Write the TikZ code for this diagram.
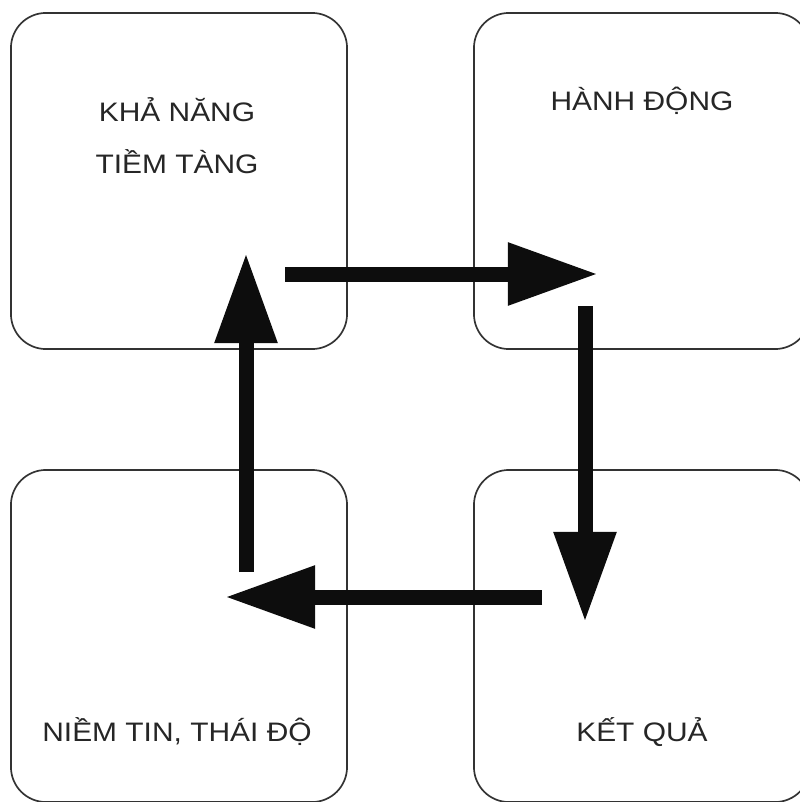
\documentclass[tikz,border=0pt]{standalone}
\usepackage{fontspec}
\setmainfont{Liberation Sans}[FakeStretch=1.12]
\usetikzlibrary{arrows.meta}

\tikzset{
  box/.style={draw=black!80, line width=1.2pt, rounded corners=0.875cm,
    minimum width=8.4cm, minimum height=8.4cm, inner sep=0pt},
  lbl/.style={text=black!85, align=center, font={\fontsize{19}{37}\selectfont}},
  arr/.style={line width=0.375cm, black!95,
    -{Triangle[length=2.25cm, width=1.475cm]}}
}

\begin{document}
\begin{tikzpicture}[x=0.025cm, y=-0.025cm]
\useasboundingbox (0,0) rectangle (800,802);
\clip (0,0) rectangle (800,802);
% Boxes
\node[box] (tl) at (179,181) {};
\node[box] (tr) at (642,181) {};
\node[box, minimum height=8.3cm] (bl) at (179,636) {};
\node[box, minimum height=8.3cm] (br) at (642,636) {};
% Labels
\node[lbl] (khanang) at (177,136) {KHẢ NĂNG\\TIỀM TÀNG};
\node[lbl] (hanhdong) at (642,101) {HÀNH ĐỘNG};
\node[lbl] (niemtin) at (177,732) {NIỀM TIN, THÁI ĐỘ};
\node[lbl] (ketqua) at (642,732) {KẾT QUẢ};
% Arrow ends
\coordinate (a1) at (285,274);
\coordinate (a2) at (598,274);
\coordinate (b1) at (585,306);
\coordinate (b2) at (585,622);
\coordinate (c1) at (542,597);
\coordinate (c2) at (225,597);
\coordinate (d1) at (246,572);
\coordinate (d2) at (246,253);
% Arrows
\draw[arr] (a1) -- (a2);
\draw[arr] (b1) -- (b2);
\draw[arr] (c1) -- (c2);
\draw[arr] (d1) -- (d2);
\end{tikzpicture}
\end{document}
